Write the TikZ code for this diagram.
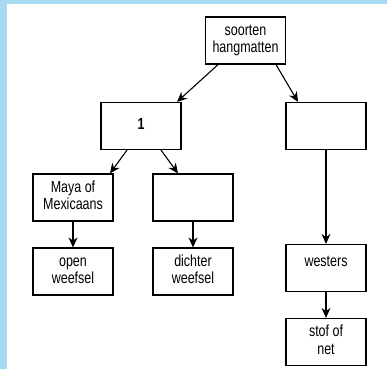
\documentclass[tikz,border=0pt]{standalone}
\usepackage{fontspec}
\setmainfont{Liberation Sans}
\usetikzlibrary{arrows.meta}
\definecolor{bgblue}{RGB}{168,218,244}
% narrow text, as in the reference
\newcommand{\lbl}[1]{\scalebox{0.78}[1]{\begin{tabular}{@{}c@{}}#1\end{tabular}}}

\begin{document}
\begin{tikzpicture}[x=1pt,y=-1pt,
box/.style={draw,line width=1.2pt,minimum width=80pt,minimum height=47pt,inner sep=2pt,font=\fontsize{16}{17.5}\selectfont},
arr/.style={-{Stealth[length=10pt,width=9pt]},line width=1.1pt}]
\fill[bgblue] (0,0) rectangle (387,369);
\fill[white] (7,4) rectangle (387,369);
\node (root) [box] at (245.5,40.5) {\lbl{soorten\\hangmatten}};
\node (A) [box] at (141,126) {\lbl{\textbf{1}}};
\node (B) [box] at (326,126) {};
\node (C) [box] at (73,197.5) {\lbl{Maya of\\Mexicaans}};
\node (D) [box] at (193,197.5) {};
\node (E) [box] at (73,271.5) {\lbl{open\\weefsel}};
\node (F) [box] at (193,271.5) {\lbl{dichter\\weefsel}};
\node (G) [box,text depth=14pt] at (326,268) {\lbl{westers}};
\node (H) [box] at (326,342) {\lbl{stof of\\net}};
\draw[arr] ([xshift=-27.5pt]root.south) -- ([xshift=36pt]A.north);
\draw[arr] ([xshift=30.5pt]root.south) -- ([xshift=-28pt]B.north);
\draw[arr] ([xshift=-14pt]A.south) -- ([xshift=37pt]C.north);
\draw[arr] ([xshift=20pt]A.south) -- ([xshift=-15pt]D.north);
\draw[arr] (C) -- (E);
\draw[arr] (D) -- (F);
\draw[arr] (B) -- (G);
\draw[arr] (G) -- (H);
\end{tikzpicture}
\end{document}
